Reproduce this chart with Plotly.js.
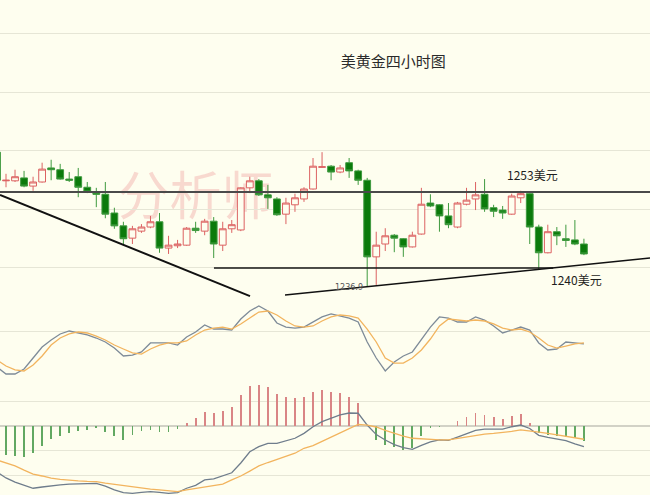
<!DOCTYPE html>
<html>
<head>
<meta charset="utf-8">
<script src="https://cdn.plot.ly/plotly-3.0.1.min.js"></script>
<style>html,body{margin:0;padding:0;background:#fefeef;}#chart{width:650px;height:495px;}</style>
</head>
<body>
<div id="chart"></div>
<script>
// ---- data ----
const idx = [0,1,2,3,4,5,6,7,8,9,10,11,12,13,14,15,16,17,18,19,20,21,22,23,24,25,26,27,28,29,30,31,32,33,34,35,36,37,38,39,40,41,42,43,44,45,46,47,48,49,50,51,52,53,54,55,56,57,58,59,60,61,62,63,64,65];

const openP = [
1259.8,1254.9,1254.9,1255.4,1254.0,1254.7,1257.1,1256.8,1255.2,1255.6,
1253.8,1252.8,1252.6,1249.4,1247.2,1245.1,1246.3,1247.0,1247.9,1243.4,
1243.8,1243.9,1246.8,1246.3,1248.0,1243.9,1246.7,1246.5,1253.7,1254.9,
1252.5,1251.8,1249.2,1250.8,1251.8,1253.5,1257.2,1257.4,1256.4,1258.0,
1256.6,1255.0,1241.9,1244.1,1245.6,1245.0,1243.6,1245.8,1251.1,1250.8,
1248.9,1247.0,1250.9,1251.8,1252.6,1250.3,1249.9,1249.2,1252.0,1252.7,
1247.0,1242.6,1246.2,1245.0,1244.8,1244.1];
const highP = [
1260.2,1256.1,1256.8,1256.6,1255.6,1258.0,1258.5,1257.8,1256.4,1257.1,
1254.7,1253.7,1254.7,1250.3,1247.9,1247.2,1247.5,1248.9,1249.4,1245.5,
1244.8,1247.0,1247.9,1248.4,1248.7,1247.9,1248.2,1253.8,1255.6,1255.2,
1254.2,1252.1,1252.0,1252.7,1253.8,1258.8,1259.8,1257.6,1257.6,1258.8,
1256.8,1255.4,1246.2,1246.8,1245.8,1245.1,1246.2,1253.7,1252.6,1250.9,
1251.1,1251.3,1253.7,1254.7,1255.2,1250.8,1250.6,1252.7,1253.2,1252.8,
1247.4,1247.4,1247.0,1247.4,1248.2,1245.0];
const lowP = [
1254.9,1253.8,1254.7,1253.8,1253.2,1254.6,1255.0,1255.1,1254.7,1252.1,
1252.8,1250.4,1248.5,1246.7,1244.1,1244.1,1246.0,1246.8,1242.6,1242.4,
1243.4,1243.8,1246.0,1245.6,1241.7,1242.9,1246.0,1246.3,1252.8,1252.3,
1250.1,1248.9,1247.5,1249.6,1251.3,1253.4,1257.1,1255.0,1256.2,1255.4,
1254.2,1236.9,1237.1,1242.9,1242.7,1241.9,1243.5,1245.7,1250.4,1246.2,
1246.8,1246.8,1250.7,1249.9,1249.6,1248.7,1248.4,1249.1,1251.1,1244.1,
1239.8,1242.5,1243.9,1243.6,1243.9,1242.2];
const closeP = [
1255.0,1255.0,1255.6,1254.0,1254.7,1256.9,1256.8,1255.2,1255.0,1253.8,
1253.0,1252.6,1249.2,1247.2,1245.0,1246.7,1247.0,1247.9,1243.4,1243.9,
1244.1,1246.8,1246.4,1248.0,1244.1,1246.7,1247.4,1253.7,1254.9,1252.5,
1252.0,1249.1,1251.1,1252.0,1253.5,1257.4,1257.3,1256.4,1257.1,1256.6,
1255.0,1241.9,1243.9,1245.5,1245.1,1243.6,1245.6,1250.9,1250.6,1248.9,
1247.4,1251.1,1251.6,1252.5,1250.1,1249.7,1249.4,1252.3,1252.7,1247.0,
1242.6,1246.2,1245.5,1244.7,1244.1,1242.4];

const stochK = [
10.0,2.2,2.2,7.8,20.0,32.2,40.0,46.7,50.0,47.8,
45.6,42.2,37.8,31.1,22.2,23.3,26.7,36.7,36.7,36.7,
34.4,43.3,48.9,56.7,52.2,52.2,51.1,63.3,72.2,77.8,
72.2,58.9,54.4,53.3,54.4,60.0,65.6,68.9,66.7,64.4,
60.0,37.8,20.0,5.6,15.6,22.2,26.7,40.0,54.4,65.6,
64.4,60.0,60.0,65.6,62.2,55.6,47.8,51.1,54.4,51.1,
36.7,28.9,30.0,37.8,36.7,35.6];
const stochD = [
17.8,11.1,6.7,5.6,12.2,22.2,34.4,42.2,46.7,48.9,
47.8,44.4,40.0,34.4,30.0,25.6,24.4,30.0,34.4,36.7,
36.7,38.9,45.6,51.1,53.3,54.4,52.2,57.8,64.4,71.1,
72.2,67.8,61.1,55.6,54.4,55.6,61.1,65.6,67.8,66.7,
64.4,52.2,37.8,20.0,14.4,14.4,20.0,28.9,41.1,55.6,
63.3,62.2,61.1,62.2,61.1,57.8,53.3,51.1,52.2,48.9,
42.2,34.4,31.1,33.3,35.6,36.7];

const macdHist = [
-1.00,-1.18,-1.22,-1.25,-1.10,-0.82,-0.53,-0.40,-0.27,-0.19,
-0.16,-0.09,-0.23,-0.41,-0.57,-0.37,-0.19,-0.16,-0.26,-0.23,
-0.13,0.13,0.34,0.58,0.52,0.62,0.79,1.27,1.63,1.66,
1.58,1.29,1.20,1.16,1.20,1.40,1.47,1.40,1.36,1.20,
0.95,0.02,-0.57,-0.78,-0.87,-0.98,-0.91,-0.41,-0.09,-0.03,
-0.01,0.22,0.38,0.54,0.45,0.38,0.27,0.41,0.48,0.13,
-0.30,-0.37,-0.40,-0.46,-0.50,-0.60];
const macdDif = [
-1.88,-2.12,-2.29,-2.43,-2.54,-2.49,-2.43,-2.40,-2.37,-2.36,
-2.35,-2.34,-2.45,-2.61,-2.72,-2.75,-2.71,-2.68,-2.71,-2.75,
-2.72,-2.54,-2.42,-2.20,-2.16,-2.04,-1.91,-1.51,-1.05,-0.84,
-0.71,-0.71,-0.61,-0.50,-0.30,-0.03,0.18,0.33,0.45,0.53,
0.52,0.04,-0.35,-0.57,-0.76,-0.88,-0.95,-0.79,-0.65,-0.57,
-0.59,-0.45,-0.31,-0.18,-0.13,-0.13,-0.13,-0.03,0.04,-0.10,
-0.38,-0.46,-0.53,-0.60,-0.73,-0.84];
const macdDea = [
-1.39,-1.51,-1.63,-1.80,-1.96,-2.04,-2.13,-2.18,-2.22,-2.24,
-2.26,-2.27,-2.33,-2.38,-2.45,-2.50,-2.54,-2.58,-2.61,-2.64,
-2.68,-2.61,-2.55,-2.50,-2.44,-2.37,-2.20,-2.04,-1.84,-1.63,
-1.49,-1.36,-1.24,-1.11,-0.91,-0.80,-0.63,-0.45,-0.27,-0.10,
0.07,0.04,-0.04,-0.18,-0.30,-0.41,-0.50,-0.53,-0.57,-0.57,
-0.57,-0.51,-0.44,-0.38,-0.33,-0.30,-0.27,-0.22,-0.16,-0.19,
-0.25,-0.30,-0.36,-0.41,-0.48,-0.54];

// levels and trendlines (index, price)
const resistance = 1253;
const support = 1240;
const supportSpan = [24.03, 61.6];
const downTrend = [[0.3355, 1252.48], [28.02, 1235.2]];
const upTrend = [[31.9, 1235.38], [72.32, 1241.71]];
const lowLabel = '1236.9';
const titleText = '美黄金四小时图';

// ---- drawing ----
const BG = '#fefeef';
const GRID = '#e6e6d6';
const xr = [0.3355, 72.318];

const traces = [
  {type:'candlestick', x: idx, open: openP, high: highP, low: lowP, close: closeP,
   xaxis:'x', yaxis:'y', whiskerwidth: 0, hoverinfo:'skip',
   increasing:{line:{color:'#dc6262', width:1}, fillcolor: BG},
   decreasing:{line:{color:'#3f9a3f', width:1}, fillcolor:'#0b7a0b'}},
  {type:'scatter', mode:'lines', x: idx, y: stochK, xaxis:'x2', yaxis:'y2',
   line:{color:'#7e8b98', width:1.3}, hoverinfo:'skip'},
  {type:'scatter', mode:'lines', x: idx, y: stochD, xaxis:'x2', yaxis:'y2',
   line:{color:'#f2b45e', width:1.3}, hoverinfo:'skip'},
  {type:'bar', x: idx, y: macdHist, xaxis:'x3', yaxis:'y3', width: 0.2,
   marker:{color: macdHist.map(v => v >= 0 ? '#d98585' : '#62a862'), line:{width:0}}, hoverinfo:'skip'},
  {type:'scatter', mode:'lines', x: idx, y: macdDif, xaxis:'x3', yaxis:'y3',
   line:{color:'#6f7d8c', width:1.3}, hoverinfo:'skip'},
  {type:'scatter', mode:'lines', x: idx, y: macdDea, xaxis:'x3', yaxis:'y3',
   line:{color:'#f2b45e', width:1.3}, hoverinfo:'skip'}
];

const xBase = {range: xr, showgrid:false, zeroline:false, showticklabels:false, ticks:'', showline:false, fixedrange:true};
const layout = {
  width: 650, height: 495,
  margin:{l:0, r:0, t:0, b:0},
  paper_bgcolor: BG, plot_bgcolor: BG,
  showlegend:false,
  boxgap: 0.25,
  boxgroupgap: 0,
  bargap: 0,
  title:{text: titleText, x: 0.605, xanchor:'center', y: 0.875, yanchor:'middle',
         font:{family:'"Noto Sans CJK SC", sans-serif', size:15, color:'#2a2a2a'}},
  xaxis: Object.assign({}, xBase, {anchor:'y', rangeslider:{visible:false}}),
  xaxis2: Object.assign({}, xBase, {anchor:'y2'}),
  xaxis3: Object.assign({}, xBase, {anchor:'y3'}),
  yaxis: {domain:[0.4, 1], range:[1235.04, 1285.81], tickvals:[1240,1250,1260,1270,1280],
          showticklabels:false, ticks:'', gridcolor: GRID, gridwidth:1, zeroline:false, fixedrange:true},
  yaxis2: {domain:[0.2404, 0.4], range:[0, 87.78], tickvals:[0, 50, 87.6],
          showticklabels:false, ticks:'', gridcolor: GRID, gridwidth:1, zeroline:false, fixedrange:true},
  yaxis3: {domain:[0, 0.2404], range:[-2.816, 2.041], tickvals:[-2,-1,1,2],
          showticklabels:false, ticks:'', gridcolor: GRID, gridwidth:1,
          zeroline:true, zerolinecolor:'#d2d2c6', zerolinewidth:2, fixedrange:true},
  shapes: [
    {type:'rect', xref:'x', yref:'y', x0: 11.5, x1: 32.5, y0: 1245.4, y1: 1257.8,
     line:{width:0}, fillcolor:'rgba(0,0,0,0)', layer:'below',
     label:{text:'分析师', textposition:'middle center',
            font:{family:'"Noto Sans CJK SC", sans-serif', size:52, color:'rgba(238,150,150,0.35)'}}},
    {type:'line', xref:'paper', yref:'y', x0:0, x1:1, y0: resistance, y1: resistance,
     line:{color:'#4a4a4a', width:2}},
    {type:'line', xref:'x', yref:'y', x0: supportSpan[0], x1: supportSpan[1], y0: support, y1: support,
     line:{color:'#151515', width:1.5}},
    {type:'line', xref:'x', yref:'y', x0: downTrend[0][0], y0: downTrend[0][1], x1: downTrend[1][0], y1: downTrend[1][1],
     line:{color:'#111', width:2}},
    {type:'line', xref:'x', yref:'y', x0: upTrend[0][0], y0: upTrend[0][1], x1: upTrend[1][0], y1: upTrend[1][1],
     line:{color:'#111', width:1.5}}
  ],
  annotations: [
    {xref:'x', yref:'y', x: 59.25, y: 1255.9, text: resistance + '美元', showarrow:false,
     font:{family:'"Noto Sans CJK SC", sans-serif', size:12, color:'#1e1e1e'}},
    {xref:'x', yref:'y', x: 64.23, y: 1237.95, text: support + '美元', showarrow:false,
     font:{family:'"Noto Sans CJK SC", sans-serif', size:12, color:'#1e1e1e'}},
    {xref:'x', yref:'y', x: 38.98, y: 1236.75, text: lowLabel, showarrow:false,
     font:{family:'"DejaVu Sans", sans-serif', size:8, color:'#555'}}
  ]
};

Plotly.newPlot('chart', traces, layout, {displayModeBar:false, staticPlot:true});
</script>
</body>
</html>
